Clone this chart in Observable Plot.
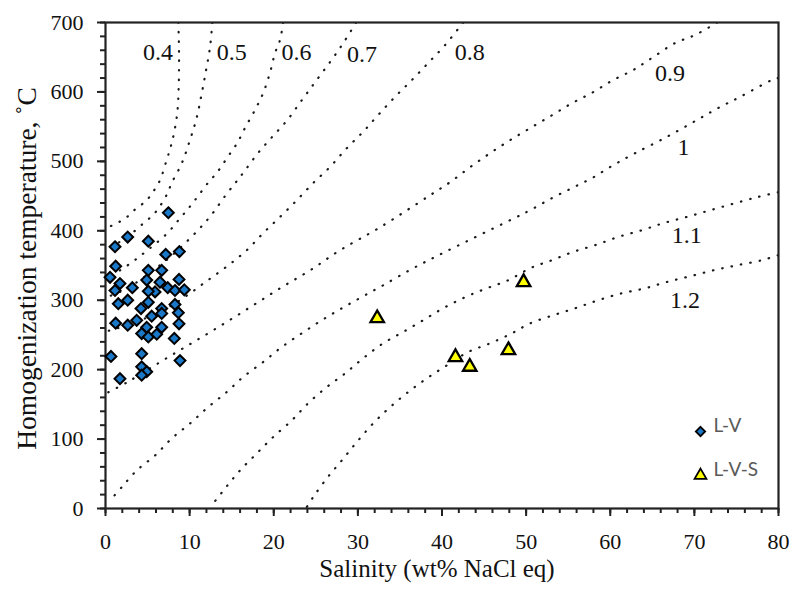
<!DOCTYPE html>
<html><head><meta charset="utf-8">
<script src="https://cdn.jsdelivr.net/npm/d3@7"></script>
<script src="https://cdn.jsdelivr.net/npm/@observablehq/plot@0.6"></script>
<style>
html,body{margin:0;padding:0;background:#fff;}
</style>
</head><body><div id="chart"></div>
<script>
// L-V inclusions
const lvSalinity = [7.47,2.64,5.09,1.13,7.16,8.78,1.21,5.09,6.68,0.54,1.72,8.74,4.90,6.48,3.19,1.13,5.89,7.40,8.26,9.37,5.09,2.64,1.52,5.09,8.26,4.22,6.68,5.49,8.66,6.68,1.21,2.64,3.71,4.90,6.68,8.74,4.30,5.09,6.09,8.18,0.65,4.30,8.86,4.30,4.90,4.30,1.72];
const lvTemp = [426,391,385,377,366,370,349,343,343,333,324,330,329,326,318,314,312,318,314,315,313,300,295,297,294,288,288,277,282,281,267,264,271,261,261,266,252,247,251,245,219,223,213,204,197,192,187];
// L-V-S inclusions
const lvsSalinity = [32.3,41.6,43.3,47.9,49.7];
const lvsTemp = [274,218,204,228,326];

// iso-density lines (g/cm3), [salinity, temperature]
const iso04 = [[8.66,700],[8.74,656],[8.70,607],[8.53,570],[8.15,541],[7.75,521],[7.27,502],[6.48,473],[5.65,456],[4.82,443],[3.63,432],[2.56,420],[1.37,411],[0.06,404]];
const iso05 = [[12.70,700],[12.43,665],[11.95,631],[11.44,598],[10.84,563],[10.05,531],[9.06,497],[7.87,469],[7.28,452],[5.89,426],[4.34,409],[2.68,392],[1.13,380],[0.06,373]];
const iso06 = [[21.11,700],[20.75,675],[20.15,656],[19.56,628],[18.73,598],[17.77,574],[16.58,548],[15.64,526],[14.45,505],[13.26,484],[12.19,469],[11.00,450],[10.05,435],[8.86,418],[7.31,396],[5.29,375],[3.51,358],[1.72,343],[0.06,333]];
const iso07 = [[29.79,700],[28.24,670],[26.69,643],[24.91,614],[23.33,588],[21.58,559],[19.80,535],[18.13,512],[16.59,487],[15.64,472],[14.33,452],[12.66,424],[11.24,404],[9.45,382],[7.67,362],[5.89,345],[4.10,329],[2.08,314],[0.06,304]];
const iso08 = [[42.51,700],[40.37,667.5],[38.35,641.6],[36.41,617],[34.42,593],[32.40,566.6],[30.62,542.5],[28.68,519],[26.69,492],[24.67,468.6],[22.74,444],[20.75,420],[18.73,396.5],[16.79,372],[14.57,350],[12.19,329],[10.05,310],[7.67,291],[5.29,277],[2.91,265],[0.06,255]];
const iso09 = [[72.7,700],[70.09,682],[67.71,670.4],[65.10,650.2],[62.72,631.5],[60.34,617.1],[57.97,599.8],[55.47,583.9],[53.09,566.6],[50.48,547.9],[48.10,530.6],[45.72,511.8],[43.34,491.6],[40.96,470.0],[38.59,451.3],[32.64,405.1],[27.88,372.0],[24.32,343.1],[20.75,317.2],[17.18,289.8],[13.38,261.0],[9.81,235.0],[6.24,209.1],[2.56,181.7],[0.06,165.8]];
const iso10 = [[79.96,620],[79.21,617.1],[75.45,593.0],[72.83,576.8],[70.30,559.5],[66.73,535.3],[62.96,511.8],[60.35,494.5],[57.81,475.8],[55.43,461.4],[53.06,447.0],[50.48,429.7],[49.29,422.4],[40.37,369.5],[36.56,346.0],[33.00,321.5],[30.46,304.6],[28.09,288.4],[25.71,271.2],[23.33,252.3],[20.95,232.6],[18.73,210.9],[16.35,189.3],[14.41,167.7],[12.19,146.0],[10.05,122.5],[7.87,100.9],[5.89,76.4],[3.71,54.8],[1.93,30.7],[0.89,16.3]];
const iso11 = [[79.96,455.6],[77.59,448.8],[74.85,439.7],[71.88,429.6],[69.11,420.0],[66.29,410.9],[63.76,400.8],[60.94,391.1],[58.21,379.3],[55.59,369.6],[53.06,357.6],[50.48,346.1],[47.86,328.7],[45.33,317.2],[42.79,304.6],[40.13,288.4],[37.75,271.1],[35.37,254.2],[33.00,237.9],[30.62,216.3],[28.48,194.6],[26.30,174.9],[24.08,151.4],[22.14,126.9],[19.92,102.8],[17.98,79.3],[15.99,54.8],[14.21,28.8],[12.43,1.4]];
const iso12 = [[79.96,364.8],[78.03,357.6],[75.05,350.3],[72.27,343.1],[69.50,334.5],[66.73,326.3],[64.15,317.2],[61.38,310.0],[58.56,299.9],[55.83,288.4],[53.21,278.3],[50.48,266.7],[48.30,252.3],[45.72,237.9],[43.11,225.4],[40.57,206.2],[38.19,187.4],[35.97,167.7],[33.83,146.0],[31.81,122.5],[29.87,95.6],[28.09,69.2],[26.30,43.3],[24.68,16.3],[23.92,1.9]];

const densityLabels = ["0.4","0.5","0.6","0.7","0.8","0.9","1","1.1","1.2"];
const labelSalinity = [6.24,15.0,22.7,30.5,43.3,67.1,68.7,69.1,68.9];
const labelTemp = [657,657,657,654,657,627,520,394,300];

const xTicks = [0,10,20,30,40,50,60,70,80];
const yTicks = [0,100,200,300,400,500,600,700];
const legendLabels = ["L-V","L-V-S"];

const isoLines = [iso04,iso05,iso06,iso07,iso08,iso09,iso10,iso11,iso12];
const isoData = isoLines.flatMap((pts, i) => pts.map(([x, y]) => ({d: densityLabels[i], x, y})));
const lv = lvSalinity.map((x, i) => ({x, y: lvTemp[i]}));
const lvs = lvsSalinity.map((x, i) => ({x, y: lvsTemp[i]}));
const labels = densityLabels.map((t, i) => ({t, x: labelSalinity[i], y: labelTemp[i]}));

const serif = "Liberation Serif";
const sans = "Lato";
const blue = "#1a78c8";
const yellow = "#ffff00";

const chart = Plot.plot({
  width: 792,
  height: 592,
  marginLeft: 105,
  marginRight: 14,
  marginTop: 22,
  marginBottom: 84,
  x: {domain: [0, 80], axis: null},
  y: {domain: [0, 700], axis: null},
  marks: [
    Plot.line(isoData, {x: "x", y: "y", z: "d", curve: "catmull-rom", stroke: "#1a1a1a", strokeWidth: 2.2, strokeDasharray: "0.5,9", strokeLinecap: "round", clip: true}),
    Plot.text(labels, {x: "x", y: "y", text: "t", fontSize: 24, fontFamily: serif, fill: "#111"}),
    Plot.axisX(d3.range(0, 81, 2), {tickSize: 5, text: null, strokeWidth: 2, stroke: "#222", label: null}),
    Plot.axisX(xTicks, {tickSize: 8, tickPadding: 17, strokeWidth: 2, stroke: "#222", fontSize: 22, fontFamily: serif, fill: "#111", label: null}),
    Plot.axisY(d3.range(0, 701, 20), {tickSize: 5, text: null, strokeWidth: 2, stroke: "#222", label: null}),
    Plot.axisY(yTicks, {tickSize: 8, tickPadding: 14, strokeWidth: 2, stroke: "#222", fontSize: 22, fontFamily: serif, fill: "#111", label: null}),
    Plot.frame({stroke: "#222", strokeWidth: 2.2}),
    Plot.dot(lv, {x: "x", y: "y", symbol: "diamond2", r: 4.9, fill: blue, stroke: "#000", strokeWidth: 2}),
    Plot.dot(lvs, {x: "x", y: "y", symbol: "triangle", r: 5, fill: yellow, stroke: "#000", strokeWidth: 2.3}),
    // legend
    Plot.dot([legendLabels[0]], {frameAnchor: "bottom-right", dx: -78, dy: -77, symbol: "diamond2", r: 4.2, fill: blue, stroke: "#000", strokeWidth: 1.8}),
    Plot.text([legendLabels[0]], {frameAnchor: "bottom-right", dx: -65, dy: -77, textAnchor: "start", fontFamily: sans, fontSize: 19, fill: "#595959"}),
    Plot.dot([legendLabels[1]], {frameAnchor: "bottom-right", dx: -78, dy: -33, symbol: "triangle", r: 4.4, fill: yellow, stroke: "#000", strokeWidth: 1.8}),
    Plot.text([legendLabels[1]], {frameAnchor: "bottom-right", dx: -65, dy: -33, textAnchor: "start", fontFamily: sans, fontSize: 19, fill: "#595959"}),
    // axis titles
    Plot.text(["Homogenization temperature, ˚C"], {frameAnchor: "left", textAnchor: "middle", rotate: -90, dx: -78, dy: 3, fontSize: 27.5, fontFamily: serif, fill: "#111"}),
    Plot.text(["Salinity (wt% NaCl eq)"], {frameAnchor: "bottom", textAnchor: "middle", dx: -5, dy: 68, fontSize: 25, fontFamily: serif, fill: "#111"})
  ]
});
chart.setAttribute("font-family", serif);
chart.style.fontFamily = serif;
document.getElementById("chart").appendChild(chart);
</script>
</body></html>
